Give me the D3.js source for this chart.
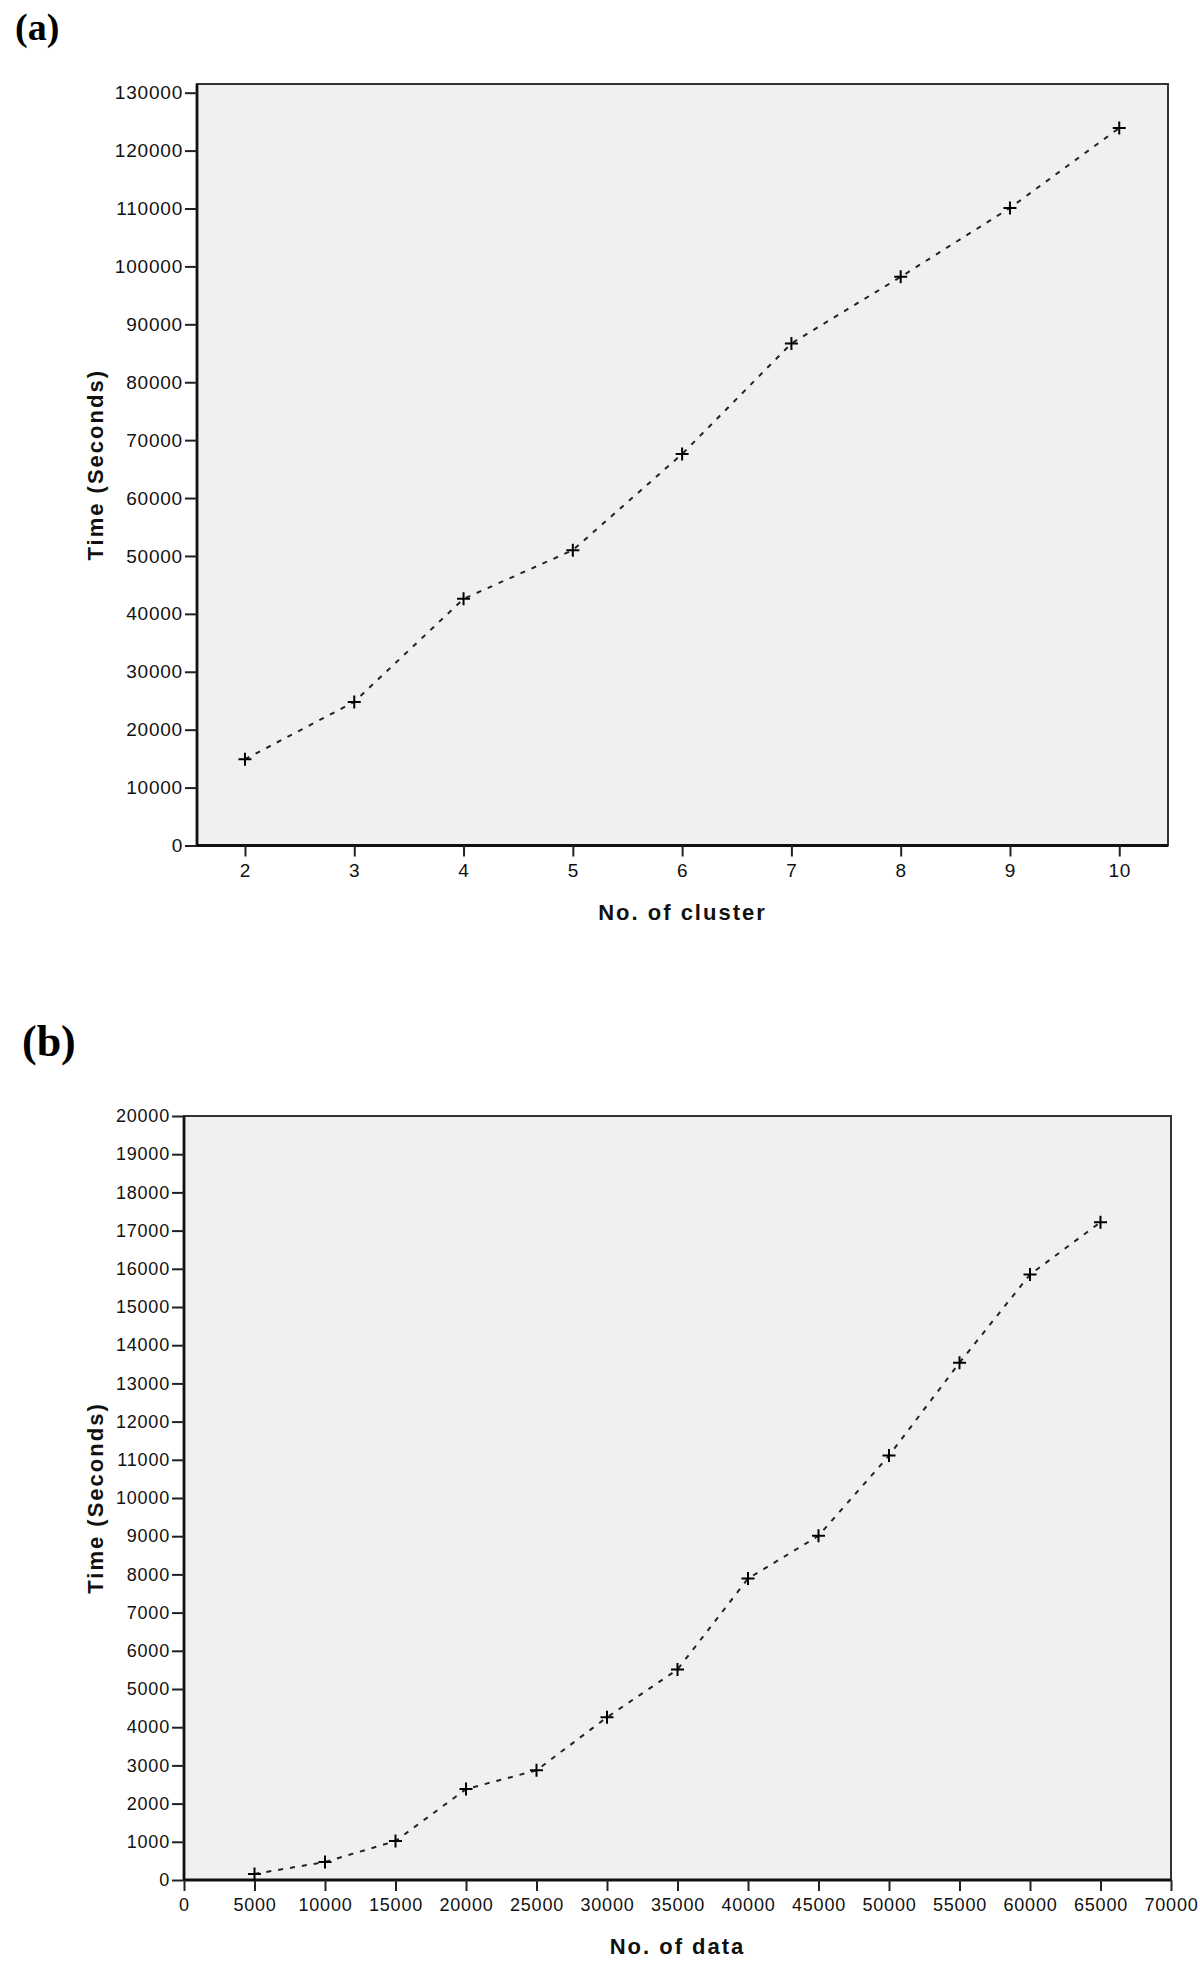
<!DOCTYPE html>
<html>
<head>
<meta charset="utf-8">
<script src="https://cdn.jsdelivr.net/npm/d3@7"></script>
<style>
  html, body { margin: 0; padding: 0; background: #ffffff; }
  svg { display: block; }
</style>
</head>
<body>
<svg id="chart" width="1200" height="1983"></svg>
<script>
// ---------- DATA ----------
const clusters = [2, 3, 4, 5, 6, 7, 8, 9, 10];
const clusterTimes = [14900, 24800, 42600, 51000, 67600, 86700, 98200, 110100, 123900];
const clusterYTicks = [0, 10000, 20000, 30000, 40000, 50000, 60000, 70000, 80000, 90000, 100000, 110000, 120000, 130000];
const clusterXTicks = [2, 3, 4, 5, 6, 7, 8, 9, 10];

const dataSizes = [5000, 10000, 15000, 20000, 25000, 30000, 35000, 40000, 45000, 50000, 55000, 60000, 65000];
const dataTimes = [160, 470, 1020, 2380, 2870, 4260, 5510, 7890, 9010, 11110, 13540, 15850, 17220];
const dataYTicks = [0, 1000, 2000, 3000, 4000, 5000, 6000, 7000, 8000, 9000, 10000, 11000, 12000, 13000, 14000, 15000, 16000, 17000, 18000, 19000, 20000];
const dataXTicks = [0, 5000, 10000, 15000, 20000, 25000, 30000, 35000, 40000, 45000, 50000, 55000, 60000, 65000, 70000];

const svg = d3.select("#chart");

function panel(cfg) {
  const g = svg.append("g");
  const x = d3.scaleLinear().domain(cfg.xDomain).range([cfg.left, cfg.right]);
  const y = d3.scaleLinear().domain(cfg.yDomain).range([cfg.bottom, cfg.top]);

  // plot background + frame
  g.append("rect")
    .attr("x", cfg.left).attr("y", cfg.top)
    .attr("width", cfg.right - cfg.left).attr("height", cfg.bottom - cfg.top)
    .attr("fill", "#f0f0f0").attr("stroke", "#333").attr("stroke-width", 2);

  // axes
  const xAxis = d3.axisBottom(x).tickValues(cfg.xTicks).tickSize(11).tickSizeOuter(0).tickPadding(7)
    .tickFormat(d3.format("d"));
  const yAxis = d3.axisLeft(y).tickValues(cfg.yTicks).tickSize(12).tickSizeOuter(0).tickPadding(2)
    .tickFormat(d3.format("d"));

  const gx = g.append("g").attr("transform", `translate(0,${cfg.bottom})`).call(xAxis);
  const gy = g.append("g").attr("transform", `translate(${cfg.left},0)`).call(yAxis);
  [gx, gy].forEach(a => {
    a.select(".domain").attr("stroke", "#111").attr("stroke-width", 2.8);
    a.selectAll(".tick line").attr("stroke", "#222").attr("stroke-width", 2);
    a.selectAll(".tick text")
      .attr("fill", "#111")
      .style("font-family", "'Liberation Sans', Arial, sans-serif")
      .style("font-size", cfg.tickFont + "px")
      .style("letter-spacing", "0.8px");
  });
  gx.select(".domain").attr("d", `M${cfg.left},0H${cfg.right}`);
  gy.select(".domain").attr("d", `M0,${cfg.bottom}V${cfg.top}`);

  // line
  const pts = cfg.xs.map((v, i) => [v, cfg.ys[i]]);
  const line = d3.line().x(d => x(d[0])).y(d => y(d[1]));
  g.append("path").datum(pts)
    .attr("d", line)
    .attr("fill", "none")
    .attr("stroke", "#222")
    .attr("stroke-width", 2)
    .attr("stroke-dasharray", "5,7");

  // markers
  g.selectAll(".mk").data(pts).enter().append("path")
    .attr("class", "mk")
    .attr("transform", d => `translate(${x(d[0])},${y(d[1])})`)
    .attr("d", "M-6.5,0H6.5M0,-6.5V6.5")
    .attr("stroke", "#000")
    .attr("stroke-width", 2);

  // axis titles
  g.append("text")
    .attr("transform", `translate(${cfg.yTitleX},${(cfg.top + cfg.bottom) / 2}) rotate(-90)`)
    .attr("text-anchor", "middle")
    .style("font-family", "'Liberation Sans', Arial, sans-serif")
    .style("font-weight", "bold")
    .style("font-size", "22px")
    .style("letter-spacing", "2px")
    .attr("fill", "#111")
    .text(cfg.yTitle);
  g.append("text")
    .attr("x", (cfg.left + cfg.right) / 2)
    .attr("y", cfg.xTitleY)
    .attr("text-anchor", "middle")
    .style("font-family", "'Liberation Sans', Arial, sans-serif")
    .style("font-weight", "bold")
    .style("font-size", "22px")
    .style("letter-spacing", "2px")
    .attr("fill", "#111")
    .text(cfg.xTitle);

  // panel label
  svg.append("text")
    .attr("x", cfg.labelX).attr("y", cfg.labelY)
    .style("font-family", "'Liberation Serif', 'Times New Roman', serif")
    .style("font-weight", "bold")
    .style("font-size", cfg.labelFont + "px")
    .attr("fill", "#000")
    .text(cfg.label);
}

panel({
  label: "(a)", labelX: 15, labelY: 40, labelFont: 38,
  left: 197, right: 1168, top: 84, bottom: 845.5,
  xDomain: [1.561, 10.446], yDomain: [0, 131500],
  xTicks: clusterXTicks, yTicks: clusterYTicks,
  xs: clusters, ys: clusterTimes,
  tickFont: 19,
  yTitle: "Time (Seconds)", yTitleX: 103,
  xTitle: "No. of cluster", xTitleY: 920
});

panel({
  label: "(b)", labelX: 22, labelY: 1056, labelFont: 44,
  left: 184, right: 1171, top: 1116, bottom: 1880,
  xDomain: [0, 70000], yDomain: [0, 20000],
  xTicks: dataXTicks, yTicks: dataYTicks,
  xs: dataSizes, ys: dataTimes,
  tickFont: 18,
  yTitle: "Time (Seconds)", yTitleX: 103,
  xTitle: "No. of data", xTitleY: 1954
});
</script>
</body>
</html>
